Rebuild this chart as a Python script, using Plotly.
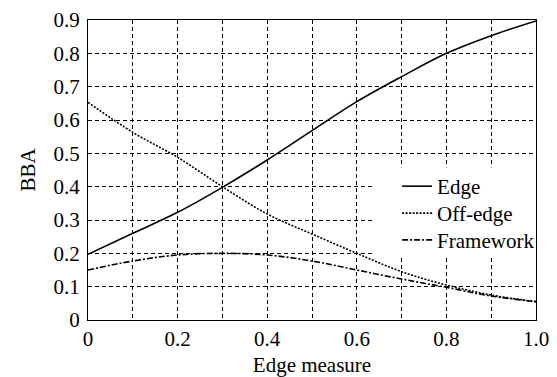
import plotly.graph_objects as go

x_vals = [0.0, 0.1, 0.2, 0.3, 0.4, 0.5, 0.6, 0.7, 0.8, 0.9, 1.0]
edge = [0.197, 0.26, 0.323, 0.398, 0.48, 0.568, 0.655, 0.73, 0.80, 0.853, 0.897]
off_edge = [0.653, 0.563, 0.488, 0.40, 0.318, 0.258, 0.20, 0.145, 0.105, 0.075, 0.055]
framework = [0.15, 0.177, 0.195, 0.20, 0.195, 0.177, 0.15, 0.123, 0.098, 0.072, 0.055]

x_tickvals = [0.0, 0.1, 0.2, 0.3, 0.4, 0.5, 0.6, 0.7, 0.8, 0.9, 1.0]
x_ticktext = ["0", "", "0.2", "", "0.4", "", "0.6", "", "0.8", "", "1.0"]
y_tickvals = [0, 0.1, 0.2, 0.3, 0.4, 0.5, 0.6, 0.7, 0.8, 0.9]
y_ticktext = ["0", "0.1", "0.2", "0.3", "0.4", "0.5", "0.6", "0.7", "0.8", "0.9"]

font = "Liberation Serif, Times New Roman, serif"
tfont = dict(family=font, size=21, color="black")

fig = go.Figure()
fig.add_trace(go.Scatter(x=x_vals, y=edge, mode="lines", name="Edge", legend="legend",
                         line=dict(color="black", width=1.6, shape="spline")))
fig.add_trace(go.Scatter(x=x_vals, y=off_edge, mode="lines", name="Off-edge", legend="legend2",
                         line=dict(color="black", width=1.6, dash="2px,1.5px", shape="spline")))
fig.add_trace(go.Scatter(x=x_vals, y=framework, mode="lines", name="Framework", legend="legend3",
                         line=dict(color="black", width=1.6, dash="6px,2px,2px,2px", shape="spline")))

leg_common = dict(x=0.69, xanchor="left", yanchor="middle",
                  bgcolor="rgba(0,0,0,0)", borderwidth=0, font=tfont)

# white panel behind legend entries (hides gridlines); legends are drawn on top of it
fig.add_shape(type="rect", xref="paper", yref="paper", x0=0.636, x1=0.997, y0=0.208, y1=0.508,
              fillcolor="white", line=dict(width=0), layer="above")

# page body has an 8px margin, so the figure is sized/offset to compensate
fig.update_layout(
    template="none",
    width=549, height=369,
    margin=dict(l=80, r=21, t=12, b=57, autoexpand=False),
    paper_bgcolor="white", plot_bgcolor="white",
    font=tfont,
    showlegend=True,
    legend=dict(y=0.445, **leg_common),
    legend2=dict(y=0.355, **leg_common),
    legend3=dict(y=0.266, **leg_common),
    xaxis=dict(range=[0, 1], tickvals=x_tickvals, ticktext=x_ticktext, tickfont=tfont,
               showgrid=True, gridcolor="black", gridwidth=1, griddash="4px,3px",
               showline=True, linecolor="black", linewidth=1.2, mirror=True,
               ticks="", zeroline=False, automargin=False, ticklabelstandoff=0,
               title=dict(text="Edge measure", standoff=8, font=tfont)),
    yaxis=dict(range=[0, 0.9], tickvals=y_tickvals, ticktext=y_ticktext, tickfont=tfont,
               showgrid=True, gridcolor="black", gridwidth=1, griddash="4px,3px",
               showline=True, linecolor="black", linewidth=1.2, mirror=True,
               ticks="", zeroline=False, automargin=False, ticklabelstandoff=3,
               title=dict(text="BBA", standoff=12, font=tfont)),
)

fig.write_html("out.html")
